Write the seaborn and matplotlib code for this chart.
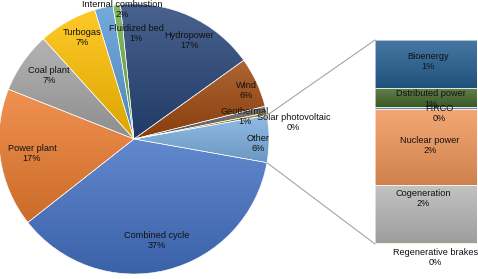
import numpy as np
import matplotlib.pyplot as plt
import seaborn as sns
from matplotlib.colors import to_rgb
from matplotlib.patches import ConnectionPatch

sns.set_style("white")
plt.rcParams['font.family'] = ['Liberation Sans', 'DejaVu Sans']

# Main pie (clockwise from just below 3 o'clock), "Other" is split out into the bar
main_labels = ['Combined cycle', 'Power plant', 'Coal plant', 'Turbogas',
               'Internal combustion', 'Fluidized bed', 'Hydropower', 'Wind',
               'Geothermal', 'Solar photovoltaic']
main_values = [36.6, 16.6, 7.3, 7.0, 2.2, 0.9, 16.7, 6.0, 0.8, 0.3]
main_colors = ['#4472C4', '#ED7D31', '#A5A5A5', '#FFC000', '#5B9BD5', '#70AD47',
               '#264478', '#9E480E', '#636363', '#997300']
other_color = '#7CAFE0'

# Secondary bar, top to bottom
other_labels = ['Bioenergy', 'Dstributed power', 'FIRCO', 'Nuclear power',
                'Cogeneration', 'Regenerative brakes']
other_values = [1.32, 0.52, 0.05, 2.09, 1.59, 0.03]
other_colors = ['#255E91', '#43682B', '#698ED0', '#F1975A', '#B7B7B7', '#FFCD33']

# label positions (pie: radius units, bar: axes data units)
pie_label_pos = [(0.17, -0.75), (-0.755, -0.11), (-0.63, 0.47), (-0.385, 0.75),
                 (-0.09, 0.96), (0.015, 0.785), (0.41, 0.73), (0.83, 0.36),
                 (0.82, 0.17), (1.18, 0.125)]
other_pie_label_pos = (0.92, -0.03)
bar_label_pos = [(0.52, 5.01), (0.55, 3.98), (0.63, 3.57), (0.54, 2.70),
                 (0.47, 1.26), (0.59, -0.38)]

other_total = sum(other_values)
pie_values = main_values + [other_total]
total = sum(pie_values)


def gradient_fill(ax, patch, color, extent):
    c = np.array(to_rgb(color))
    top = c + (1 - c) * 0.16
    bot = c * 0.86
    t = np.linspace(0, 1, 64)[:, None, None]
    img = (1 - t) * top + t * bot
    im = ax.imshow(img, extent=extent, origin='upper', aspect='auto',
                   interpolation='bilinear', zorder=0.5)
    im.set_clip_path(patch)


fig = plt.figure(figsize=(4.78, 2.79), dpi=100)
ax = fig.add_axes([-1 / 478, 5 / 279, 270 / 478, 270 / 279])

start = -(other_total / total) * 360 / 2
wedges, _ = ax.pie(pie_values, colors=main_colors + [other_color],
                   startangle=start, counterclock=False, radius=1,
                   wedgeprops=dict(edgecolor='white', linewidth=0.4))
for w, col in zip(wedges, main_colors + [other_color]):
    bb = w.get_path().get_extents()
    gradient_fill(ax, w, col, (bb.x0, bb.x1, bb.y0, bb.y1))
    w.set_facecolor('none')
    w.set_zorder(1)
ax.set_xlim(-1, 1)
ax.set_ylim(-1, 1)
ax.set_aspect('equal')
ax.axis('off')

txt = dict(fontsize=6.6, color='#111111', ha='center', va='center',
           multialignment='center', linespacing=1.15, zorder=5)
for name, v, (x, y) in zip(main_labels, main_values, pie_label_pos):
    ax.text(x, y, f"{name}\n{v / total * 100:.0f}%", **txt)
ax.text(*other_pie_label_pos, f"Other\n{other_total / total * 100:.0f}%", **txt)

# secondary stacked bar
ax2 = fig.add_axes([375 / 478, 35 / 279, 102 / 478, 204 / 279])
bottom = 0
bottoms = []
for v in other_values[::-1]:
    bottoms.append(bottom)
    bottom += v
bottoms = bottoms[::-1]
bars = ax2.bar([0.5] * len(other_values), other_values, width=1, bottom=bottoms,
               color=other_colors, edgecolor='white', linewidth=0.4)
for b, col in zip(bars, other_colors):
    bb = b.get_bbox()
    gradient_fill(ax2, b, col, (bb.x0, bb.x1, bb.y0, bb.y1))
    b.set_facecolor('none')
    b.set_zorder(1)
ax2.set_xlim(0, 1)
ax2.set_ylim(0, other_total)
ax2.axis('off')
for name, v, (x, y) in zip(other_labels, other_values, bar_label_pos):
    ax2.text(x, y, f"{name}\n{v / total * 100:.0f}%", clip_on=False, **txt)

# connector lines from the "Other" slice to the bar
half = np.deg2rad((other_total / total) * 360 / 2)
for sgn, yb in [(1, other_total), (-1, 0)]:
    con = ConnectionPatch(xyA=(np.cos(half), sgn * np.sin(half)), coordsA=ax.transData,
                          xyB=(0, yb), coordsB=ax2.transData,
                          color='#A5A5A5', linewidth=0.8)
    fig.add_artist(con)

fig.savefig('out.png', dpi=100)
